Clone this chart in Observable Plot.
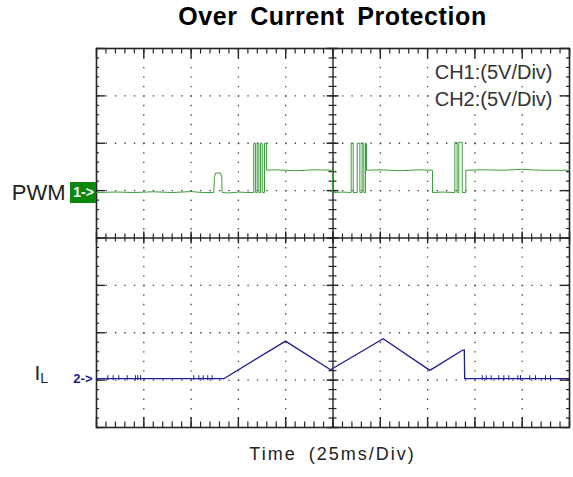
<!DOCTYPE html>
<html><head><meta charset="utf-8">
<script src="https://cdn.jsdelivr.net/npm/d3@7"></script>
<script src="https://cdn.jsdelivr.net/npm/@observablehq/plot@0.6"></script>
<style>
body{margin:0;background:#fff;font-family:"Liberation Sans",Arial,sans-serif;}
#wrap{position:relative;width:573px;height:477px;overflow:hidden;background:#fff;}
#title{position:absolute;left:96px;width:473px;top:4px;text-align:center;font-weight:bold;font-size:25px;line-height:25px;letter-spacing:0.6px;word-spacing:5px;color:#000;}
#chart{position:absolute;left:0;top:40px;}
#xlabel{position:absolute;left:96px;width:473px;top:445px;text-align:center;font-size:18px;line-height:18px;letter-spacing:2px;word-spacing:5px;color:#222;}
</style></head>
<body><div id="wrap"><div id="title">Over Current Protection</div><div id="chart"></div><div id="xlabel">Time (25ms/Div)</div></div>
<script>
// Time in ms (25 ms/div, 10 divisions); voltages in V (5 V/div)
const timeDomain = [0, 250];
const divDomain = [-4, 4];
const voltsPerDiv = 5;
const ch1Offset = 0.96;   // CH1 ground marker (divisions)
const ch2Offset = -2.97;  // CH2 ground marker (divisions)
const channelLabels = ["PWM", "I", "L"];
const markerLabels = ["1->", "2->"];
const scaleNote = "CH1:(5V/Div)\nCH2:(5V/Div)";

// CH1 (PWM) trace
const pwmT = [0,10,20,30,40,50,56,62.0,62.3,62.9,65.6,66.2,66.4,70,75,80,
  83.1,83.1,84.0,84.0,84.9,84.9,85.8,85.8,86.7,86.7,87.6,87.6,88.8,88.8,89.9,89.9,
  95,105,115,124.7,124.7,130,
  134.6,134.6,135.7,135.7,137.8,137.8,139.2,139.2,140.4,140.4,141.3,141.3,142.2,142.2,142.7,142.7,
  150,160,170,177.6,177.6,183,
  189.4,189.4,190.6,190.6,191.5,191.5,193.3,193.3,195.2,195.2,
  205,215,225,235,250];
const pwmV = [0,0.05,0,0.08,0,0.1,0,0,1.6,2.05,2.05,1.6,0,-0.05,0.05,0,
  0,5.2,5.2,0,0,5.2,5.2,0,0,5.2,5.2,0,0,5.2,5.2,2.35,
  2.4,2.3,2.4,2.35,0,0.05,
  0,5.2,5.2,0,0,5.2,5.2,0,0,5.2,5.2,0,0,5.2,5.2,2.35,
  2.4,2.3,2.4,2.35,0,0.05,
  0,5.3,5.3,0,0,5.3,5.3,0,0,2.35,
  2.4,2.35,2.45,2.35,2.35];

// CH2 (inductor current) trace
const ilT = [0, 67.3, 99.9, 123.7, 151.5, 176.2, 193.0, 194.4, 194.6, 250];
const ilV = [0, 0, 3.97, 0.95, 4.22, 0.88, 2.95, 3.05, 0, 0];
// small blips on the CH2 baseline (ms)
const ilBlipT = [6.0,8.8,11.8,16.2,20.6,21.8,23.3,51.4,54.1,56.4,58.8,61.1,203.9,206.0,208.6,212.6,215.3,217.9,222.7,224.1,229.0,232.0,237.3,239.9];

// graticule
const minorX = d3.range(0, 250.001, 5);
const majorX = d3.range(0, 250.001, 25);
const minorY = d3.range(-20, 21).map(k => k / 5);
const majorY = d3.range(-4, 5);
const gridX = majorX.filter(t => t > 0 && t < 250 && t !== 125);
const gridY = majorY.filter(v => v > -4 && v < 4 && v !== 0);

const pwm = pwmT.map((t, i) => ({t, y: ch1Offset + pwmV[i] / voltsPerDiv}));
const il = ilT.map((t, i) => ({t, y: ch2Offset + ilV[i] / voltsPerDiv}));

const pxX = 25 / 47.3;   // ms per pixel
const pxY = 1 / 47.4;    // div per pixel
const ink = "#262626";

const chart = Plot.plot({
  width: 573, height: 400,
  marginLeft: 96, marginRight: 4, marginTop: 8, marginBottom: 13,
  x: {domain: timeDomain, axis: null},
  y: {domain: divDomain, axis: null},
  style: {fontFamily: "Liberation Sans, Arial, sans-serif", background: "transparent", overflow: "visible"},
  marks: [
    Plot.ruleX(gridX, {stroke: "#444", strokeWidth: 1.3, strokeDasharray: "1.4,8.075"}),
    Plot.ruleY(gridY, {stroke: "#444", strokeWidth: 1.3, strokeDasharray: "1.4,8.06"}),
    Plot.ruleX([125], {stroke: ink, strokeWidth: 1.4}),
    Plot.ruleY([0], {stroke: ink, strokeWidth: 1.4}),
    // border ticks
    Plot.ruleX(minorX, {y1: 4, y2: 4 - 5.5 * pxY, stroke: ink, strokeWidth: 1.2}),
    Plot.ruleX(majorX, {y1: 4, y2: 4 - 10 * pxY, stroke: ink, strokeWidth: 1.4}),
    Plot.ruleX(minorX, {y1: -4, y2: -4 + 5.5 * pxY, stroke: ink, strokeWidth: 1.2}),
    Plot.ruleX(majorX, {y1: -4, y2: -4 + 10 * pxY, stroke: ink, strokeWidth: 1.4}),
    Plot.ruleY(minorY, {x1: 0, x2: 3 * pxX, stroke: ink, strokeWidth: 1.2}),
    Plot.ruleY(majorY, {x1: 0, x2: 9 * pxX, stroke: ink, strokeWidth: 1.4}),
    Plot.ruleY(minorY, {x1: 250, x2: 250 - 3 * pxX, stroke: ink, strokeWidth: 1.2}),
    Plot.ruleY(majorY, {x1: 250, x2: 250 - 9 * pxX, stroke: ink, strokeWidth: 1.4}),
    // center-axis ticks
    Plot.ruleX(minorX, {y1: -4 * pxY, y2: 4 * pxY, stroke: ink, strokeWidth: 1.2}),
    Plot.ruleX(majorX, {y1: -6 * pxY, y2: 6 * pxY, stroke: ink, strokeWidth: 1.4}),
    Plot.ruleY(minorY, {x1: 125 - 4 * pxX, x2: 125 + 4 * pxX, stroke: ink, strokeWidth: 1.2}),
    Plot.ruleY(majorY, {x1: 125 - 6 * pxX, x2: 125 + 6 * pxX, stroke: ink, strokeWidth: 1.4}),
    Plot.frame({stroke: ink, strokeWidth: 1.6}),
    // scale note (opaque halo hides the graticule under it)
    Plot.text([scaleNote], {text: d => d, frameAnchor: "top-right", textAnchor: "end", lineAnchor: "top", dx: -17, dy: 11, fontSize: 20, lineHeight: 1.37, fill: "#333", stroke: "white", strokeWidth: 6}),
    // traces
    Plot.line(pwm, {x: "t", y: "y", stroke: "#3a9d3a", strokeWidth: 1}),
    Plot.line(il, {x: "t", y: "y", stroke: "#1c1c94", strokeWidth: 1.3}),
    Plot.ruleX(ilBlipT, {y1: ch2Offset - 2 * pxY, y2: ch2Offset + 3 * pxY, stroke: "#1c1c94", strokeWidth: 1}),
    // channel markers
    Plot.rect([ch1Offset], {x1: 0, x2: 0, y1: d => d, y2: d => d, insetLeft: -26, insetRight: 0, insetTop: -10, insetBottom: -11, fill: "#0c870c"}),
    Plot.text([markerLabels[0]], {text: d => d, x: 0, y: ch1Offset, dx: -13, textAnchor: "middle", lineAnchor: "middle", fontSize: 14, fontWeight: "bold", fill: "white"}),
    Plot.text([channelLabels[0]], {text: d => d, x: 0, y: ch1Offset, dx: -31, textAnchor: "end", lineAnchor: "middle", fontSize: 22, fill: "#222"}),
    Plot.text([markerLabels[1]], {text: d => d, x: 0, y: ch2Offset, dx: -4, textAnchor: "end", lineAnchor: "middle", fontSize: 13, fontWeight: "bold", fill: "#1c1c94"}),
    Plot.text([channelLabels[1]], {text: d => d, x: 0, y: ch2Offset, dx: -62, dy: -5, textAnchor: "start", lineAnchor: "middle", fontSize: 21, fill: "#222"}),
    Plot.text([channelLabels[2]], {text: d => d, x: 0, y: ch2Offset, dx: -56.3, dy: 0, textAnchor: "start", lineAnchor: "middle", fontSize: 14, fill: "#222"})
  ]
});
document.getElementById("chart").appendChild(chart);
</script>
</body></html>
